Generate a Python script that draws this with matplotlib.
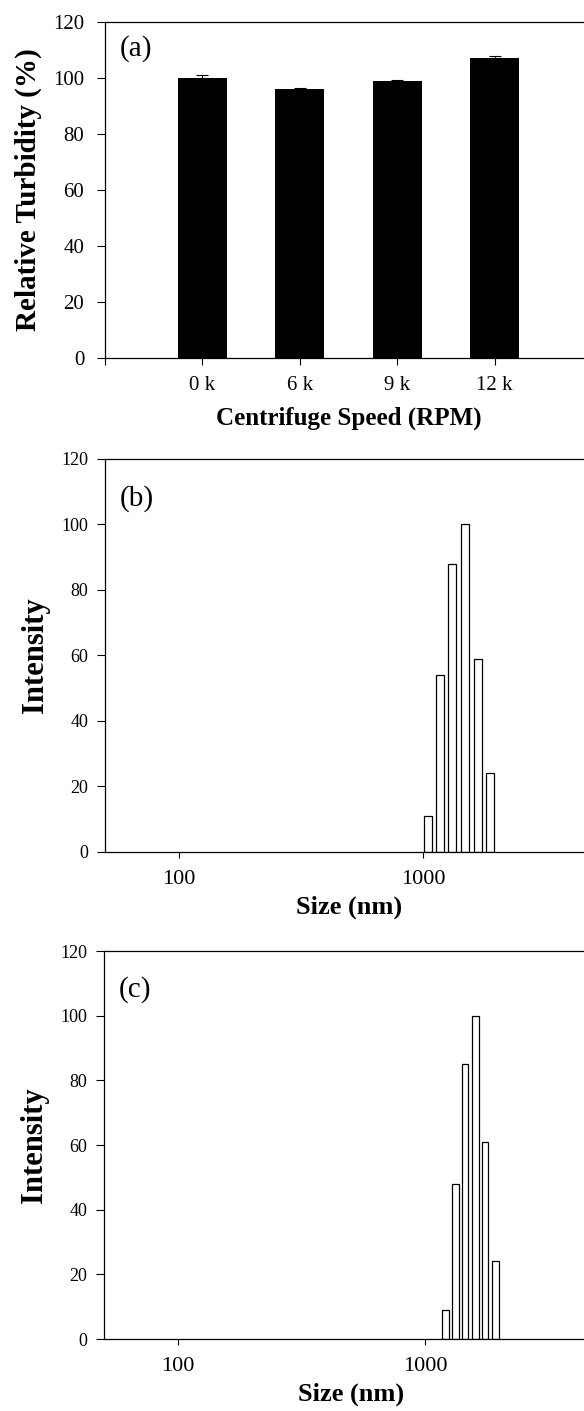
import numpy as np
import matplotlib
matplotlib.use("Agg")
import matplotlib.pyplot as plt
from matplotlib.ticker import FixedLocator, NullLocator, FixedFormatter

plt.rcParams["font.family"] = ["Liberation Serif", "DejaVu Serif"]

# panel (a): turbidity after centrifugation
speeds = ["0 k", "6 k", "9 k", "12 k"]
turbidity = [100, 96, 99, 107]
turbidity_err = [1.0, 0.3, 0.3, 0.9]

# panel (b): size distribution
sizes_b = [1044, 1174, 1318, 1485, 1679, 1886]
intensity_b = [11, 54, 88, 100, 59, 24]

# panel (c): size distribution
sizes_c = [1209, 1329, 1452, 1598, 1754, 1931]
intensity_c = [9, 48, 85, 100, 61, 24]

y_ticks = [0, 20, 40, 60, 80, 100, 120]
size_ticks = [100, 1000]


def style_axes(ax, ytick_size, ypad):
    ax.spines["right"].set_visible(False)
    for side in ["left", "bottom", "top"]:
        ax.spines[side].set_linewidth(0.9)
    ax.set_ylim(0, 120)
    ax.set_yticks(y_ticks)
    ax.tick_params(axis="y", direction="out", length=6, width=0.8, labelsize=ytick_size, pad=ypad)
    ax.tick_params(axis="x", which="both", direction="out", length=5, width=0.8)


def log_bars(ax, sizes, heights, frac=0.64):
    # bars of equal width in log space
    logs = np.log10(sizes)
    half = np.median(np.diff(logs)) * frac / 2
    left = 10 ** (logs - half)
    right = 10 ** (logs + half)
    ax.bar(left, heights, width=right - left, align="edge",
           color="white", edgecolor="black", linewidth=0.9)


def size_panel(fig, rect, sizes, heights, tag):
    ax = fig.add_axes(rect)
    log_bars(ax, sizes, heights)
    ax.set_xscale("log")
    ax.set_xlim(50, 5000)
    style_axes(ax, 13, 6)
    ax.xaxis.set_major_locator(FixedLocator(size_ticks))
    ax.xaxis.set_major_formatter(FixedFormatter([str(s) for s in size_ticks]))
    ax.xaxis.set_minor_locator(NullLocator())
    ax.tick_params(axis="x", length=4, labelsize=16, pad=9)
    ax.set_xlabel("Size (nm)", fontsize=19, fontweight="bold", labelpad=5)
    ax.set_ylabel("Intensity", fontsize=22, fontweight="bold", labelpad=8)
    ax.text(0.03, 0.90, tag, transform=ax.transAxes, fontsize=21, va="center", ha="left")
    return ax


def main():
    fig = plt.figure(figsize=(5.84, 14.11), dpi=100)

    # (a) bar chart with error bars
    ax = fig.add_axes([0.1798, 0.7463, 0.834, 0.2381])
    x = np.arange(1, len(speeds) + 1)
    ax.bar(x, turbidity, width=0.5, color="black",
           yerr=[np.zeros(len(x)), turbidity_err], capsize=4,
           error_kw={"elinewidth": 0.8, "capthick": 0.8, "ecolor": "black"})
    ax.set_xlim(0, 5)
    style_axes(ax, 15, 9)
    ax.set_xticks(x)
    ax.set_xticklabels(speeds)
    ax.set_xticks([0], minor=True)
    ax.tick_params(axis="x", labelsize=15, pad=8)
    ax.set_xlabel("Centrifuge Speed (RPM)", fontsize=18, fontweight="bold", labelpad=8)
    ax.set_ylabel("Relative Turbidity (%)", fontsize=21, fontweight="bold", labelpad=8)
    ax.text(0.03, 0.92, "(a)", transform=ax.transAxes, fontsize=21, va="center", ha="left")

    # (b) and (c) size distributions
    size_panel(fig, [0.1798, 0.3962, 0.837, 0.2785], sizes_b, intensity_b, "(b)")
    size_panel(fig, [0.1781, 0.0510, 0.845, 0.2750], sizes_c, intensity_c, "(c)")

    fig.savefig("out.png", dpi=100)


if __name__ == "__main__":
    main()
